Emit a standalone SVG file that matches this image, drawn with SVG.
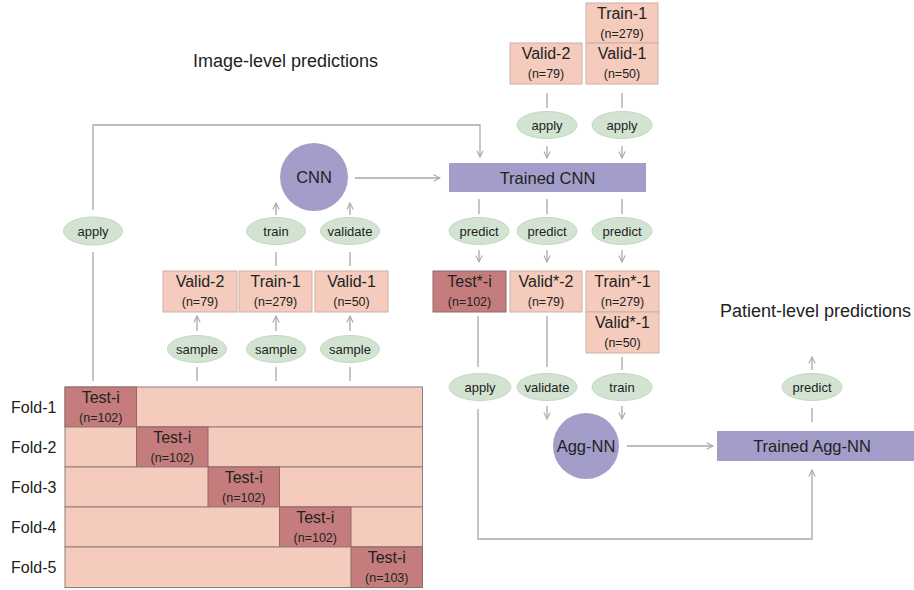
<svg xmlns="http://www.w3.org/2000/svg" width="914" height="590" viewBox="0 0 914 590">
<style>
text{font-family:"Liberation Sans",Arial,sans-serif;fill:#222}
.box{fill:#f4cbbc;stroke:#cfb0a6;stroke-width:1}
.row{fill:#f4cbbc;stroke:#8f7f7b;stroke-width:1}
.test{fill:#c47d7c;stroke:#8f6b6a;stroke-width:1}
.purple{fill:#a39ec9}
.op{fill:#d2e4d1;stroke:#c3d8c2;stroke-width:1}
.t{font-size:16px;text-anchor:middle}
.n{font-size:12.5px;text-anchor:middle}
.o{font-size:13px;text-anchor:middle}
.lbl{font-size:16px}
.title{font-size:18px}
.big{font-size:16.5px;text-anchor:middle}
#connectors line,#connectors polyline{stroke:#a8a8a8;stroke-width:1.3;fill:none}
.a{marker-end:url(#arr)}
</style>
<defs>
<marker id="arr" viewBox="0 0 10 10" refX="9" refY="5" markerWidth="8" markerHeight="8" markerUnits="userSpaceOnUse" orient="auto">
<path d="M1,1 L9,5 L1,9" fill="none" stroke="#a8a8a8" stroke-width="1.3"/>
</marker>
</defs>
<rect width="914" height="590" fill="#fff"/>

<text class="title" x="193" y="67">Image-level predictions</text>
<text class="title" x="720" y="317">Patient-level predictions</text>

<g id="connectors">
<line x1="93" y1="381" x2="93" y2="252"/>
<polyline class="a" points="93,210 93,125 480,125 480,157"/>
<line x1="197" y1="381" x2="197" y2="367"/>
<line x1="276" y1="381" x2="276" y2="367"/>
<line x1="350" y1="381" x2="350" y2="367"/>
<line class="a" x1="197" y1="331" x2="197" y2="316"/>
<line class="a" x1="276" y1="331" x2="276" y2="316"/>
<line class="a" x1="350" y1="331" x2="350" y2="316"/>
<line x1="276" y1="266" x2="276" y2="252"/>
<line x1="350" y1="266" x2="350" y2="252"/>
<line class="a" x1="276" y1="215" x2="276" y2="203"/>
<line class="a" x1="350" y1="215" x2="350" y2="203"/>
<line class="a" x1="355" y1="178" x2="440" y2="178"/>
<line x1="547" y1="93" x2="547" y2="108"/>
<line x1="622" y1="93" x2="622" y2="108"/>
<line class="a" x1="547" y1="146" x2="547" y2="158"/>
<line class="a" x1="622" y1="146" x2="622" y2="158"/>
<line x1="479" y1="199" x2="479" y2="214"/>
<line x1="547" y1="199" x2="547" y2="214"/>
<line x1="622" y1="199" x2="622" y2="214"/>
<line class="a" x1="479" y1="250" x2="479" y2="262"/>
<line class="a" x1="547" y1="250" x2="547" y2="262"/>
<line class="a" x1="622" y1="250" x2="622" y2="262"/>
<line x1="478" y1="316" x2="478" y2="367"/>
<polyline class="a" points="478,409 478,539 812,539 812,470"/>
<line x1="547" y1="316" x2="547" y2="367"/>
<line class="a" x1="547" y1="406" x2="547" y2="419"/>
<line x1="622" y1="357" x2="622" y2="370"/>
<line class="a" x1="622" y1="406" x2="622" y2="419"/>
<line class="a" x1="627" y1="446" x2="713" y2="446"/>
<line x1="812" y1="422" x2="812" y2="408"/>
<line class="a" x1="812" y1="370" x2="812" y2="357"/>
</g>

<g id="folds">
<g id="fold1">
<rect class="row" x="65" y="387" width="357.5" height="40"/>
<rect class="test" x="65" y="387" width="71.5" height="40"/>
<text class="t" x="100.75" y="403">Test-i</text>
<text class="n" x="100.75" y="422">(n=102)</text>
<text class="lbl" x="11" y="413">Fold-1</text>
</g>
<g id="fold2">
<rect class="row" x="65" y="427" width="357.5" height="40"/>
<rect class="test" x="136.5" y="427" width="71.5" height="40"/>
<text class="t" x="172.25" y="443">Test-i</text>
<text class="n" x="172.25" y="462">(n=102)</text>
<text class="lbl" x="11" y="453">Fold-2</text>
</g>
<g id="fold3">
<rect class="row" x="65" y="467" width="357.5" height="40"/>
<rect class="test" x="208" y="467" width="71.5" height="40"/>
<text class="t" x="243.75" y="483">Test-i</text>
<text class="n" x="243.75" y="502">(n=102)</text>
<text class="lbl" x="11" y="493">Fold-3</text>
</g>
<g id="fold4">
<rect class="row" x="65" y="507" width="357.5" height="40"/>
<rect class="test" x="279.5" y="507" width="71.5" height="40"/>
<text class="t" x="315.25" y="523">Test-i</text>
<text class="n" x="315.25" y="542">(n=102)</text>
<text class="lbl" x="11" y="533">Fold-4</text>
</g>
<g id="fold5">
<rect class="row" x="65" y="547" width="357.5" height="40.5"/>
<rect class="test" x="351" y="547" width="71.5" height="40.5"/>
<text class="t" x="386.75" y="563">Test-i</text>
<text class="n" x="386.75" y="582">(n=103)</text>
<text class="lbl" x="11" y="573">Fold-5</text>
</g>
</g>

<g id="apply-left"><ellipse class="op" cx="93" cy="231" rx="29.5" ry="14"/><text class="o" x="93" y="236">apply</text></g>

<g id="sample1"><ellipse class="op" cx="197" cy="349" rx="29.5" ry="13.5"/><text class="o" x="197" y="354">sample</text></g>
<g id="sample2"><ellipse class="op" cx="276" cy="349" rx="29.5" ry="13.5"/><text class="o" x="276" y="354">sample</text></g>
<g id="sample3"><ellipse class="op" cx="350" cy="349" rx="29.5" ry="13.5"/><text class="o" x="350" y="354">sample</text></g>

<g id="valid2-a"><rect class="box" x="163" y="271" width="74" height="41"/><text class="t" x="200" y="287">Valid-2</text><text class="n" x="200" y="306">(n=79)</text></g>
<g id="train1-a"><rect class="box" x="239" y="271" width="73" height="41"/><text class="t" x="275.5" y="287">Train-1</text><text class="n" x="275.5" y="306">(n=279)</text></g>
<g id="valid1-a"><rect class="box" x="315" y="271" width="73" height="41"/><text class="t" x="351.5" y="287">Valid-1</text><text class="n" x="351.5" y="306">(n=50)</text></g>

<g id="train-op"><ellipse class="op" cx="276" cy="231" rx="29.5" ry="13.5"/><text class="o" x="276" y="236">train</text></g>
<g id="validate-op"><ellipse class="op" cx="350" cy="231" rx="29.5" ry="13.5"/><text class="o" x="350" y="236">validate</text></g>

<g id="cnn"><circle class="purple" cx="314" cy="177" r="34"/><text class="big" x="314" y="183">CNN</text></g>
<g id="trained-cnn"><rect class="purple" x="449" y="163" width="197" height="29"/><text class="big" x="547.5" y="183.5">Trained CNN</text></g>

<g id="train1-b"><rect class="box" x="586" y="3" width="72" height="40"/><text class="t" x="622" y="19">Train-1</text><text class="n" x="622" y="38">(n=279)</text></g>
<g id="valid1-b"><rect class="box" x="586" y="43" width="72" height="41"/><text class="t" x="622" y="59">Valid-1</text><text class="n" x="622" y="78">(n=50)</text></g>
<g id="valid2-b"><rect class="box" x="510" y="43" width="72" height="41"/><text class="t" x="546" y="59">Valid-2</text><text class="n" x="546" y="78">(n=79)</text></g>

<g id="apply1"><ellipse class="op" cx="547" cy="125" rx="30" ry="13.5"/><text class="o" x="547" y="130">apply</text></g>
<g id="apply2"><ellipse class="op" cx="622" cy="125" rx="30" ry="13.5"/><text class="o" x="622" y="130">apply</text></g>

<g id="predict1"><ellipse class="op" cx="479" cy="231" rx="30" ry="13.5"/><text class="o" x="479" y="236">predict</text></g>
<g id="predict2"><ellipse class="op" cx="547" cy="231" rx="30" ry="13.5"/><text class="o" x="547" y="236">predict</text></g>
<g id="predict3"><ellipse class="op" cx="622" cy="231" rx="30" ry="13.5"/><text class="o" x="622" y="236">predict</text></g>

<g id="test-star"><rect class="test" x="433" y="271" width="73" height="41"/><text class="t" x="469.5" y="287">Test*-i</text><text class="n" x="469.5" y="306">(n=102)</text></g>
<g id="valid2-star"><rect class="box" x="510" y="271" width="72" height="41"/><text class="t" x="546" y="287">Valid*-2</text><text class="n" x="546" y="306">(n=79)</text></g>
<g id="train1-star"><rect class="box" x="586" y="271" width="73" height="41"/><text class="t" x="622.5" y="287">Train*-1</text><text class="n" x="622.5" y="306">(n=279)</text></g>
<g id="valid1-star"><rect class="box" x="586" y="312" width="73" height="41"/><text class="t" x="622.5" y="328">Valid*-1</text><text class="n" x="622.5" y="347">(n=50)</text></g>

<g id="apply3"><ellipse class="op" cx="480" cy="387" rx="31" ry="13.5"/><text class="o" x="480" y="392">apply</text></g>
<g id="validate2"><ellipse class="op" cx="547" cy="387" rx="30" ry="13.5"/><text class="o" x="547" y="392">validate</text></g>
<g id="train2"><ellipse class="op" cx="622" cy="387" rx="30" ry="13.5"/><text class="o" x="622" y="392">train</text></g>

<g id="agg-nn"><circle class="purple" cx="586" cy="446" r="33"/><text class="big" x="586" y="452">Agg-NN</text></g>
<g id="trained-agg"><rect class="purple" x="717" y="431" width="197" height="30"/><text class="big" x="812" y="452">Trained Agg-NN</text></g>
<g id="predict4"><ellipse class="op" cx="812" cy="387" rx="30" ry="13.5"/><text class="o" x="812" y="392">predict</text></g>
</svg>
